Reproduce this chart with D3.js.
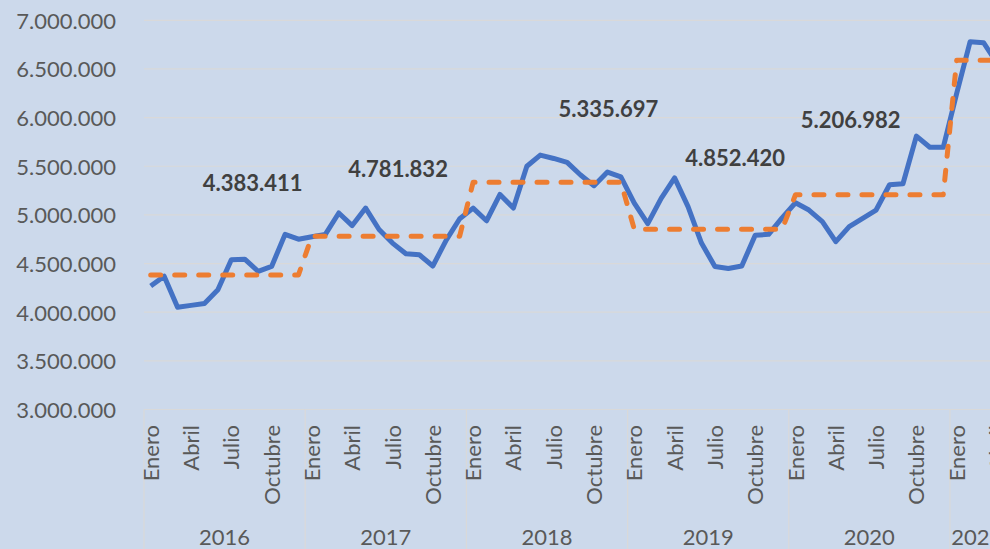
<!DOCTYPE html>
<html>
<head>
<meta charset="utf-8">
<script src="https://cdn.jsdelivr.net/npm/d3@7"></script>
<style>
body { margin: 0; overflow: hidden; background: #ccd9eb; }
svg { display: block; }
.yLabel, .monthLabel, .yearLabel { font-family: Lato, "Open Sans", sans-serif; fill: #595959; }
.dataLabel { font-family: Lato, "Open Sans", sans-serif; font-weight: bold; fill: #404040; }
.grid { stroke: #d9d9d9; stroke-width: 1.2; }
</style>
</head>
<body>
<script>
//monthly chart, 2016 to april 2021, with yearly average step line

(function(){

//data
var years = [2016, 2017, 2018, 2019, 2020, 2021];
var monthNames = ["Enero", "Febrero", "Marzo", "Abril", "Mayo", "Junio",
    "Julio", "Agosto", "Septiembre", "Octubre", "Noviembre", "Diciembre"];

var monthly2016 = [4270000, 4370000, 4050000, 4070000, 4090000, 4230000, 4540000, 4545000, 4420000, 4470000, 4800000, 4750000];
var monthly2017 = [4776000, 4800000, 5020000, 4890000, 5070000, 4850000, 4710000, 4600000, 4590000, 4475000, 4740000, 4960000];
var monthly2018 = [5070000, 4940000, 5210000, 5070000, 5500000, 5615000, 5580000, 5540000, 5410000, 5300000, 5440000, 5390000];
var monthly2019 = [5120000, 4910000, 5170000, 5380000, 5085000, 4710000, 4470000, 4450000, 4475000, 4790000, 4800000, 4970000];
var monthly2020 = [5125000, 5050000, 4930000, 4725000, 4880000, 4965000, 5050000, 5310000, 5320000, 5810000, 5695000, 5695000];
var monthly2021 = [6250000, 6780000, 6770000, 6560000];

//yearly averages (orange dashed line) and their labels
var yearlyAverage = [4383411, 4781832, 5335697, 4852420, 5206982, 6590000];
var labelledYears = 5;

var yTicks = [3000000, 3500000, 4000000, 4500000, 5000000, 5500000, 6000000, 6500000, 7000000];

//where the average labels sit (month index, value)
var labelAnchors = [[7.58, 5328000], [18.41, 5472000], [34.08, 6088000], [43.5, 5582000], [52.1, 5970000]];

window.onload = setChart;

function setChart(){
    var width = 990,
        height = 549,
        plotLeft = 144,
        plotTop = 20.3,
        plotBottom = 409.5,
        monthWidth = 13.433,
        fontSize = 22;

    var monthlyByYear = [monthly2016, monthly2017, monthly2018, monthly2019, monthly2020, monthly2021];

    //flatten into one list of months
    var points = [];
    monthlyByYear.forEach(function(vals, y){
        vals.forEach(function(v, m){
            points.push({year: years[y], yearIdx: y, month: m, value: v, avg: yearlyAverage[y]});
        });
    });
    points.forEach(function(d, i){ d.idx = i; });

    var svg = d3.select("body")
        .append("svg")
        .attr("width", width)
        .attr("height", height);

    svg.append("rect")
        .attr("width", width)
        .attr("height", height)
        .attr("fill", "#ccd9eb");

    var x = d3.scaleBand()
        .domain(d3.range(points.length))
        .range([plotLeft, plotLeft + points.length * monthWidth]);

    var y = d3.scaleLinear()
        .domain([3000000, 7000000])
        .range([plotBottom, plotTop]);

    var plotRight = plotLeft + points.length * monthWidth;

    var locale = d3.formatLocale({decimal: ",", thousands: ".", grouping: [3], currency: ["", ""]});
    var fmt = locale.format(",d");

    //gridlines
    svg.selectAll(".gridY")
        .data(yTicks)
        .enter()
        .append("line")
        .attr("class", "grid")
        .attr("x1", plotLeft)
        .attr("x2", plotRight)
        .attr("y1", function(d){ return y(d); })
        .attr("y2", function(d){ return y(d); });

    //y axis labels
    var yAxis = d3.axisLeft(y)
        .tickValues(yTicks)
        .tickSize(0)
        .tickPadding(28)
        .tickFormat(fmt);

    var yAxisG = svg.append("g")
        .attr("transform", "translate(" + plotLeft + ",0)")
        .call(yAxis);
    yAxisG.select(".domain").remove();
    yAxisG.selectAll("text")
        .attr("class", "yLabel")
        .attr("font-size", fontSize)
        .attr("dy", "0.36em");

    //year separators below the axis
    var yearStarts = points.filter(function(d){ return d.month === 0; });
    svg.selectAll(".yearSep")
        .data(yearStarts)
        .enter()
        .append("line")
        .attr("class", "grid")
        .attr("x1", function(d){ return x(d.idx); })
        .attr("x2", function(d){ return x(d.idx); })
        .attr("y1", plotBottom)
        .attr("y2", height);

    //month labels (every third month)
    svg.selectAll(".monthLabel")
        .data(points.filter(function(d){ return d.month % 3 === 0; }))
        .enter()
        .append("text")
        .attr("class", "monthLabel")
        .attr("font-size", fontSize)
        .attr("text-anchor", "end")
        .attr("transform", function(d){
            var cx = x(d.idx) + x.bandwidth() / 2;
            return "translate(" + (cx + 8) + "," + 425 + ") rotate(-90)";
        })
        .text(function(d){ return monthNames[d.month]; });

    //year labels
    svg.selectAll(".yearLabel")
        .data(monthlyByYear)
        .enter()
        .append("text")
        .attr("class", "yearLabel")
        .attr("font-size", fontSize)
        .attr("text-anchor", "middle")
        .attr("x", function(vals, i){
            var first = yearStarts[i].idx;
            return (x(first) + x(first + vals.length - 1) + x.bandwidth()) / 2;
        })
        .attr("y", 545)
        .text(function(vals, i){ return years[i]; });

    //monthly line
    var line = d3.line()
        .x(function(d){ return x(d.idx) + x.bandwidth() / 2; })
        .y(function(d){ return y(d.value); });

    svg.append("path")
        .datum(points)
        .attr("d", line)
        .attr("fill", "none")
        .attr("stroke", "#4472c4")
        .attr("stroke-width", 5)
        .attr("stroke-linejoin", "round");

    //yearly average line
    var avgLine = d3.line()
        .x(function(d){ return x(d.idx) + x.bandwidth() / 2; })
        .y(function(d){ return y(d.avg); });

    svg.append("path")
        .datum(points)
        .attr("d", avgLine)
        .attr("fill", "none")
        .attr("stroke", "#ed7d31")
        .attr("stroke-width", 5)
        .attr("stroke-dasharray", "10,14")
        .attr("stroke-linecap", "round")
        .attr("stroke-linejoin", "round");

    //average labels
    svg.selectAll(".dataLabel")
        .data(yearlyAverage.slice(0, labelledYears))
        .enter()
        .append("text")
        .attr("class", "dataLabel")
        .attr("font-size", fontSize)
        .attr("text-anchor", "middle")
        .attr("dy", "0.36em")
        .attr("x", function(d, i){ return x(0) + x.bandwidth() / 2 + labelAnchors[i][0] * x.step(); })
        .attr("y", function(d, i){ return y(labelAnchors[i][1]); })
        .text(function(d){ return fmt(d); });
};

})();
</script>
</body>
</html>
